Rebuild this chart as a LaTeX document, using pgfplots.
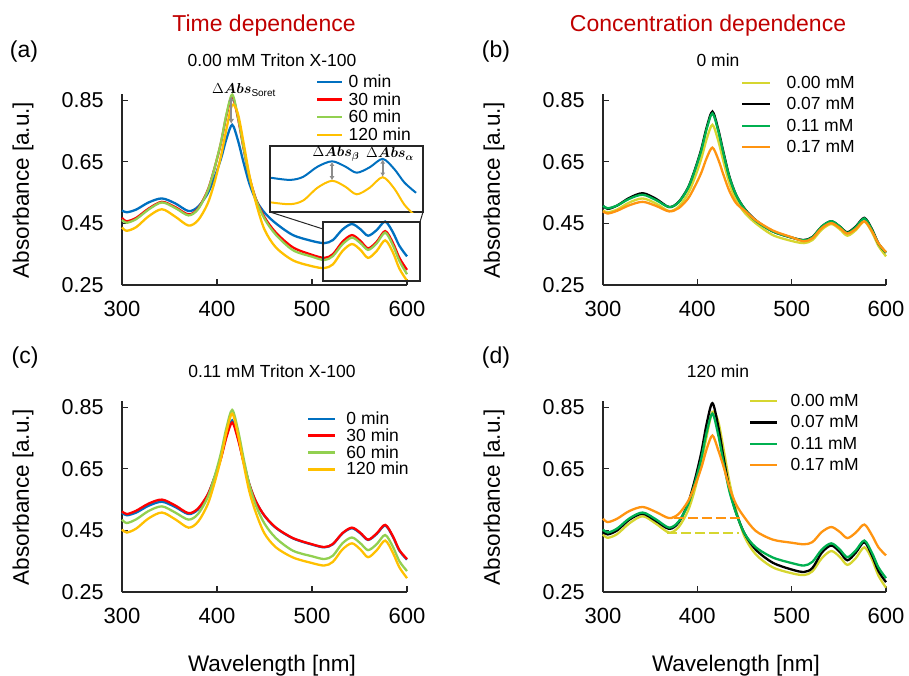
\documentclass[border=0pt]{standalone}
\usepackage{amsmath}
\usepackage{pgfplots}
\pgfplotsset{compat=1.18}
\usepackage{pgfplotstable}
\usepackage{fontspec}
\setmainfont{Liberation Sans}
\usetikzlibrary{arrows.meta}

\definecolor{cBlue}{HTML}{0070C0}
\definecolor{cRed}{HTML}{FF0000}
\definecolor{cLGreen}{HTML}{92D050}
\definecolor{cGold}{HTML}{FFC000}
\definecolor{cYel}{HTML}{D6D630}
\definecolor{cGreen}{HTML}{00B050}
\definecolor{cOrange}{HTML}{FF9410}
\definecolor{cGray}{HTML}{8C8C8C}
\definecolor{cTitle}{HTML}{C00000}

\newcommand\fs[1]{\fontsize{#1}{#1}\selectfont}

\pgfplotstableread{
x   c1    c2    c3    c4    c5    c6    c7    c8    c9    c10   c11   c12
300 0.492 0.468 0.461 0.437 0.507 0.507 0.489 0.512 0.485 0.453 0.445 0.488
305 0.486 0.457 0.452 0.426 0.497 0.499 0.482 0.503 0.474 0.443 0.437 0.477
315 0.495 0.468 0.464 0.438 0.508 0.508 0.491 0.514 0.486 0.456 0.450 0.488
328 0.518 0.498 0.495 0.473 0.533 0.530 0.509 0.537 0.513 0.489 0.485 0.513
342 0.531 0.520 0.518 0.496 0.548 0.543 0.520 0.550 0.528 0.508 0.504 0.526
356 0.515 0.503 0.500 0.472 0.530 0.526 0.507 0.531 0.508 0.486 0.481 0.510
370 0.490 0.479 0.476 0.443 0.503 0.503 0.489 0.506 0.485 0.459 0.455 0.490
380 0.504 0.498 0.496 0.460 0.519 0.518 0.499 0.521 0.503 0.478 0.475 0.503
390 0.546 0.556 0.554 0.513 0.565 0.564 0.530 0.565 0.556 0.533 0.537 0.544
397 0.596 0.625 0.625 0.579 0.621 0.619 0.568 0.618 0.620 0.600 0.610 0.592
404 0.658 0.709 0.711 0.666 0.689 0.685 0.613 0.682 0.699 0.681 0.700 0.651
410 0.725 0.801 0.805 0.757 0.763 0.758 0.663 0.753 0.784 0.770 0.798 0.715
416 0.770 0.862 0.868 0.835 0.813 0.807 0.696 0.800 0.841 0.829 0.863 0.758
422 0.720 0.793 0.797 0.806 0.757 0.752 0.659 0.747 0.777 0.762 0.790 0.712
428 0.647 0.693 0.696 0.711 0.677 0.673 0.605 0.671 0.684 0.666 0.683 0.655
434 0.580 0.602 0.601 0.608 0.602 0.600 0.555 0.600 0.599 0.577 0.586 0.590
441 0.526 0.529 0.527 0.517 0.543 0.543 0.516 0.544 0.531 0.507 0.508 0.535
450 0.485 0.470 0.465 0.430 0.498 0.497 0.492 0.498 0.472 0.440 0.440 0.492
462 0.450 0.420 0.413 0.372 0.460 0.458 0.460 0.459 0.425 0.395 0.387 0.448
480 0.412 0.372 0.363 0.330 0.424 0.424 0.427 0.425 0.384 0.362 0.345 0.420
500 0.393 0.348 0.342 0.311 0.404 0.404 0.405 0.405 0.366 0.344 0.323 0.410
513 0.386 0.338 0.331 0.305 0.396 0.395 0.392 0.396 0.357 0.336 0.315 0.405
522 0.396 0.350 0.344 0.317 0.406 0.405 0.402 0.406 0.368 0.348 0.328 0.412
532 0.430 0.390 0.382 0.360 0.440 0.440 0.435 0.441 0.408 0.388 0.378 0.445
542 0.448 0.412 0.404 0.383 0.457 0.457 0.451 0.459 0.427 0.408 0.401 0.461
551 0.431 0.393 0.386 0.364 0.440 0.440 0.435 0.442 0.408 0.388 0.380 0.445
559 0.410 0.369 0.364 0.338 0.421 0.419 0.417 0.420 0.386 0.363 0.353 0.425
568 0.428 0.390 0.385 0.360 0.440 0.438 0.432 0.440 0.405 0.385 0.378 0.443
577 0.456 0.425 0.420 0.395 0.468 0.466 0.457 0.468 0.435 0.417 0.412 0.469
585 0.422 0.388 0.380 0.357 0.432 0.430 0.425 0.432 0.398 0.378 0.370 0.435
592 0.377 0.338 0.328 0.303 0.385 0.384 0.385 0.386 0.350 0.330 0.318 0.395
600 0.343 0.299 0.285 0.264 0.355 0.355 0.357 0.357 0.318 0.295 0.282 0.369
}\spec

\pgfplotsset{
  panel/.style={
    scale only axis, height=191pt,
    xmin=300, xmax=600, ymin=0.25, ymax=0.87,
    axis lines=left, axis line style={-, line width=1.1pt, black!85},
    tick align=inside, major tick length=6pt,
    tick style={line width=1.1pt, black!85},
    xtick={300,400,500,600}, ytick={0.25,0.45,0.65,0.85},
    xticklabels={300,400,500,600}, yticklabels={0.25,0.45,0.65,0.85},
    /pgf/number format/assume math mode=true,
    xticklabel style={font=\fs{22}, yshift=-13pt},
    yticklabel style={font=\fs{21.5}, xshift=-15pt},
    clip=false,
    legend cell align=left,
    legend style={draw=none, fill=none, inner xsep=0pt, inner ysep=0pt,
      anchor=north west, font=\fs{17.5}},
  },
  crv/.style={line width=2.3pt, smooth},
}

\begin{document}
\begin{tikzpicture}
\useasboundingbox (0,0) rectangle (909pt,-675pt);

% (a)
\begin{axis}[panel, at={(122pt,-285pt)}, anchor=south west, width=285pt,
  legend style={at={(axis description cs:0.681,1.113)}, row sep=-0.4pt, column sep=3pt},
  legend image code/.code={\draw[#1] (0pt,0pt) -- (25pt,0pt);}]
\addplot[cBlue, crv] table[x=x,y=c1]{\spec};
\addplot[cRed, crv] table[x=x,y=c2]{\spec};
\addplot[cLGreen, crv] table[x=x,y=c3]{\spec};
\addplot[cGold, crv] table[x=x,y=c4]{\spec};
\legend{0 min,30 min,60 min,120 min}
\draw[cGray, line width=1.8pt, {Latex[length=5pt,width=6pt]}-{Latex[length=5pt,width=6pt]}] (axis cs:415,0.862) -- (axis cs:415,0.773);
\end{axis}

% inset
\begin{axis}[at={(270pt,-212pt)}, anchor=south west, scale only axis,
  width=153pt, height=66pt, xmin=499.2, xmax=604.8, ymin=0.279, ymax=0.499,
  xtick=\empty, ytick=\empty, axis line style={line width=1.1pt, black!85},
  axis background/.style={fill=white}]
\addplot[cBlue, line width=2pt, smooth, restrict x to domain=495:610] table[x=x,y=c1]{\spec};
\addplot[cGold, line width=2pt, smooth, restrict x to domain=495:610] table[x=x,y=c4]{\spec};
\draw[cGray, line width=1.6pt, {Latex[length=4pt,width=5pt]}-{Latex[length=4pt,width=5pt]}] (axis cs:542,0.446) -- (axis cs:542,0.385);
\draw[cGray, line width=1.6pt, {Latex[length=4pt,width=5pt]}-{Latex[length=4pt,width=5pt]}] (axis cs:577,0.454) -- (axis cs:577,0.397);
\end{axis}

% (b)
\begin{axis}[panel, at={(603pt,-285pt)}, anchor=south west, width=283pt,
  legend style={at={(axis description cs:0.488,1.105)}, row sep=3.6pt, column sep=13pt},
  legend image code/.code={\draw[#1] (0pt,0pt) -- (28pt,0pt);}]
\addplot[cYel, crv] table[x=x,y=c1]{\spec};
\addplot[black, crv] table[x=x,y=c5]{\spec};
\addplot[cGreen, crv] table[x=x,y=c6]{\spec};
\addplot[cOrange, crv] table[x=x,y=c7]{\spec};
\legend{0.00 mM,0.07 mM,0.11 mM,0.17 mM}
\end{axis}

% (c)
\begin{axis}[panel, at={(122pt,-592pt)}, anchor=south west, width=285pt,
  legend style={at={(axis description cs:0.649,0.956)}, row sep=-1.3pt, column sep=8pt},
  legend image code/.code={\draw[#1] (0pt,0pt) -- (27pt,0pt);}]
\addplot[cBlue, crv] table[x=x,y=c6]{\spec};
\addplot[cRed, crv] table[x=x,y=c8]{\spec};
\addplot[cLGreen, crv] table[x=x,y=c9]{\spec};
\addplot[cGold, crv] table[x=x,y=c10]{\spec};
\legend{0 min,30 min,60 min,120 min}
\end{axis}

% (d)
\begin{axis}[panel, at={(603pt,-592pt)}, anchor=south west, width=283pt,
  legend style={at={(axis description cs:0.516,1.047)}, row sep=3.6pt, column sep=10pt},
  legend image code/.code={\draw[#1] (0pt,0pt) -- (27pt,0pt);}]
\addplot[cYel, crv] table[x=x,y=c4]{\spec};
\addplot[black, crv] table[x=x,y=c11]{\spec};
\addplot[cGreen, crv] table[x=x,y=c10]{\spec};
\addplot[cOrange, crv] table[x=x,y=c12]{\spec};
\legend{0.00 mM,0.07 mM,0.11 mM,0.17 mM}
\addplot[cYel, line width=2pt, dash pattern=on 10pt off 4pt, forget plot] coordinates {(368,0.441) (444,0.441)};
\addplot[cOrange, line width=2pt, dash pattern=on 10pt off 4pt, forget plot] coordinates {(375,0.490) (451,0.490)};
\end{axis}

% zoom box and connectors
\draw[black!85, line width=1.1pt] (323pt,-222pt) rectangle (420pt,-281pt);
\draw[black!85, line width=1pt] (270pt,-212pt) -- (323pt,-229pt);
\draw[black!85, line width=1pt] (423pt,-212pt) -- (420pt,-222pt);

% annotations
\node[font=\fs{14.4}] at (244pt,-90pt) {$\Delta\boldsymbol{Abs}_{\mathrm{Soret}}$};
\node[font=\fs{14.4}] at (336pt,-154pt) {$\Delta\boldsymbol{Abs_{\beta}}$};
\node[font=\fs{14.4}] at (390pt,-154pt) {$\Delta\boldsymbol{Abs_{\alpha}}$};

% titles
\node[font=\fs{23}, text=cTitle, anchor=base] at (264pt,-31pt) {Time dependence};
\node[font=\fs{23}, text=cTitle, anchor=base] at (708pt,-31pt) {Concentration dependence};
\node[font=\fs{23}, anchor=base] at (24pt,-57.5pt) {(a)};
\node[font=\fs{23}, anchor=base] at (496pt,-57.5pt) {(b)};
\node[font=\fs{23}, anchor=base] at (25pt,-363.5pt) {(c)};
\node[font=\fs{23}, anchor=base] at (496pt,-363.5pt) {(d)};
\node[font=\fs{17.5}, anchor=base] at (272pt,-66.5pt) {0.00 mM Triton X-100};
\node[font=\fs{17.5}, anchor=base] at (718pt,-66.5pt) {0 min};
\node[font=\fs{17.5}, anchor=base] at (272pt,-377pt) {0.11 mM Triton X-100};
\node[font=\fs{17.5}, anchor=base] at (718pt,-377pt) {120 min};

% axis labels
\node[font=\fs{22.5}, rotate=90] at (23pt,-190pt) {Absorbance [a.u.]};
\node[font=\fs{22.5}, rotate=90] at (494pt,-190pt) {Absorbance [a.u.]};
\node[font=\fs{22.5}, rotate=90] at (23pt,-497pt) {Absorbance [a.u.]};
\node[font=\fs{22.5}, rotate=90] at (494pt,-497pt) {Absorbance [a.u.]};
\node[font=\fs{22.5}, anchor=base] at (272pt,-671pt) {Wavelength [nm]};
\node[font=\fs{22.5}, anchor=base] at (736pt,-671pt) {Wavelength [nm]};
\end{tikzpicture}
\end{document}
